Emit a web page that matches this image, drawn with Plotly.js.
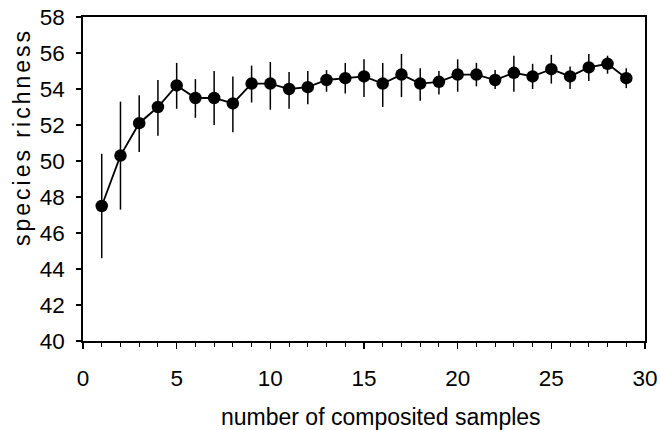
<!DOCTYPE html>
<html>
<head>
<meta charset="utf-8">
<script src="https://cdn.plot.ly/plotly-3.0.1.min.js"></script>
<style>
html,body{margin:0;padding:0;background:#fff;}
#chart{width:661px;height:430px;}
</style>
</head>
<body>
<div id="chart"></div>
<script>
var samples = [1,2,3,4,5,6,7,8,9,10,11,12,13,14,15,16,17,18,19,20,21,22,23,24,25,26,27,28,29];
var richness = [47.5,50.3,52.1,53.0,54.2,53.5,53.5,53.2,54.3,54.3,54.0,54.1,54.5,54.6,54.7,54.3,54.8,54.3,54.4,54.8,54.8,54.5,54.9,54.7,55.1,54.7,55.2,55.4,54.6];
var errUp = [2.9,3.0,1.55,1.5,1.25,1.05,1.5,1.5,1.0,1.2,0.95,0.9,0.55,0.85,0.95,1.15,1.15,0.85,0.6,0.85,0.65,0.55,0.95,0.7,0.8,0.55,0.75,0.45,0.55];
var errDown = [2.9,3.0,1.6,1.6,1.3,1.1,1.5,1.6,1.05,1.45,1.1,0.95,0.65,0.85,1.15,1.3,1.25,0.95,0.7,0.95,0.65,0.5,1.05,0.7,0.8,0.7,0.75,0.55,0.55];
var xTitle = 'number of composited samples';
var yTitle = 'species richness';

var trace = {
  x: samples, y: richness, type: 'scatter', mode: 'lines+markers',
  line: {color: '#000', width: 1.8},
  marker: {color: '#000', size: 12.5, symbol: 'circle'},
  error_y: {type: 'data', symmetric: false, array: errUp, arrayminus: errDown,
            color: '#000', thickness: 1.5, width: 0},
  cliponaxis: false
};

var fam = 'Liberation Sans, Arial, sans-serif';
var fontTick = {family: fam, size: 22.5, color: '#000'};
var L = 83, T = 17, W = 562, H = 324;
var layout = {
  width: 661, height: 430,
  margin: {l: L, r: 661 - L - W, t: T, b: 430 - T - H},
  paper_bgcolor: '#fff', plot_bgcolor: '#fff',
  showlegend: false,
  xaxis: {
    range: [0, 30], tickvals: [0,5,10,15,20,25,30], ticktext: ['0','5','10','15','20','25','30'],
    ticks: 'outside', ticklen: 6, tickwidth: 1.3, tickcolor: '#000',
    minor: {dtick: 1, ticks: 'outside', ticklen: 4, tickwidth: 1, tickcolor: '#000', showgrid: false},
    showgrid: false, zeroline: false, showline: true, linecolor: '#000', linewidth: 1.6, mirror: true,
    tickfont: fontTick, ticklabelstandoff: 10
  },
  yaxis: {
    range: [40, 58], tickvals: [40,42,44,46,48,50,52,54,56,58],
    ticks: 'outside', ticklen: 5, tickwidth: 1.3, tickcolor: '#000',
    showgrid: false, zeroline: false, showline: true, linecolor: '#000', linewidth: 1.6, mirror: true,
    tickfont: fontTick, ticklabelstandoff: 7
  },
  annotations: [
    {text: xTitle, xref: 'paper', yref: 'paper', x: (381 - L) / W, y: (T + H - 402) / H,
     xanchor: 'center', yanchor: 'top', showarrow: false,
     font: {family: fam, size: 23, color: '#000'}},
    {text: yTitle, xref: 'paper', yref: 'paper', x: (22 - L) / W, y: (T + H - 137) / H,
     xanchor: 'center', yanchor: 'middle', textangle: -90, showarrow: false,
     font: {family: fam, size: 23, color: '#000'}}
  ]
};
Plotly.newPlot('chart', [trace], layout, {displayModeBar: false, staticPlot: true}).then(function (gd) {
  var anns = gd.querySelectorAll('.annotation-text');
  if (anns.length > 1) { anns[1].style.letterSpacing = '3px'; }
});
</script>
</body>
</html>
